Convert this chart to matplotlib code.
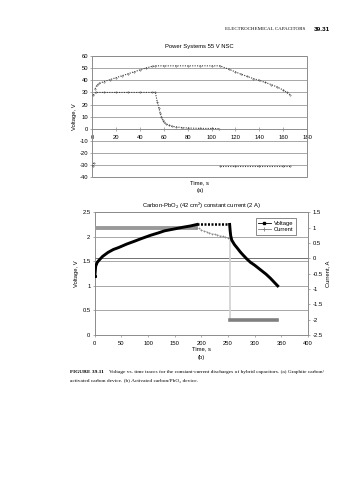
import matplotlib
matplotlib.use("Agg")
import matplotlib.pyplot as plt
from matplotlib.patches import Rectangle
from matplotlib.lines import Line2D

plt.rcParams['font.family'] = ['Liberation Sans', 'DejaVu Sans']
plt.rcParams['mathtext.fontset'] = 'custom'
plt.rcParams['mathtext.rm'] = 'Liberation Sans'
plt.rcParams['mathtext.it'] = 'Liberation Sans:italic'
plt.rcParams['axes.unicode_minus'] = False

# ------------------------------------------------------
# (a) Power Systems 55 V NSC
a_upper_t = [2.5, 4, 6, 10, 15, 20, 25, 30, 35, 40, 45, 50, 53, 60, 70, 80, 90, 100,
             107, 115, 120, 125, 130, 135, 140, 145, 150, 155, 160, 163, 166]
a_upper_v = [33, 36, 37.5, 39, 40.6, 42.2, 43.8, 45.4, 47, 48.6, 50.2, 51.5, 52, 52, 52, 52,
             52, 52, 52, 49, 47, 45, 43.2, 41.5, 40, 38.3, 36.5, 34.5, 32, 30, 28]
a_mid_t = [1, 3, 10, 20, 30, 40, 50, 53, 54.5, 56, 57, 58, 59, 60, 62, 64, 67, 70, 75,
           80, 90, 100, 106]
a_mid_v = [27.8, 30, 30, 30, 30, 30, 30, 30, 22.5, 17, 13, 10, 7.5, 5.5, 4, 3, 2, 1.5,
           1, 0.6, 0.3, 0.2, 0.1]
a_low1_t = [0.5, 1.5]
a_low1_v = [-31, -28]
a_low2_t = [107, 120, 140, 160, 166]
a_low2_v = [-31, -31, -31, -31, -31]
a_xticks = [0, 20, 40, 60, 80, 100, 120, 140, 160, 180]
a_yticks = [-40, -30, -20, -10, 0, 10, 20, 30, 40, 50, 60]

# ------------------------------------------------------
# (b) Carbon-PbO2, voltage and current
v_charge_t = [0.5, 2, 5, 9, 15, 25, 35, 45, 60, 75, 87, 105, 120, 131, 150, 164, 180, 192]
v_charge = [1.2, 1.4, 1.48, 1.53, 1.6, 1.68, 1.74, 1.78, 1.85, 1.91, 1.96, 2.03, 2.08,
            2.12, 2.16, 2.19, 2.22, 2.25]
v_hold_t = [192, 253]
v_hold = [2.25, 2.25]
v_dis_t = [253, 254, 255, 257, 262, 268, 273, 278, 285, 292, 300, 307, 314, 321, 329, 336, 343]
v_dis = [2.25, 2.12, 2.02, 1.93, 1.84, 1.76, 1.69, 1.63, 1.55, 1.48, 1.42, 1.36, 1.30,
         1.24, 1.16, 1.08, 1.0]

i_charge_t = [0, 1, 2, 190]
i_charge = [-0.55, 0.0, 1.0, 1.0]
i_taper_t = [190, 195, 200, 205, 210, 215, 220, 225, 230, 235, 240, 245, 250, 253]
i_taper = [1.0, 0.97, 0.92, 0.89, 0.86, 0.83, 0.8, 0.78, 0.76, 0.74, 0.71, 0.69, 0.67, 0.66]
i_step_t = [253, 253]
i_step = [0.66, -2.0]
i_dis_t = [253, 342]
i_dis = [-2.0, -2.0]

b_xticks = [0, 50, 100, 150, 200, 250, 300, 350, 400]
b_yticks = [0, 0.5, 1, 1.5, 2, 2.5]
b_y2ticks = [-2.5, -2, -1.5, -1, -0.5, 0, 0.5, 1, 1.5]

fs = 4.2
grid_c = '0.6'
frame_c = '0.55'

fig = plt.figure(figsize=(3.57, 4.8), dpi=100)

# page header
fig.text(0.855, 0.939, "ELECTROCHEMICAL CAPACITORS", ha='right', va='center',
         fontsize=3.6, family=['Liberation Serif', 'DejaVu Serif'])
fig.text(0.925, 0.939, "39.31", ha='right', va='center', fontsize=4.6, weight='bold')

# ------------------------------------------------------
# chart (a)
ax = fig.add_axes([0.258, 0.631, 0.602, 0.252])
ax.set_xlim(0, 180)
ax.set_ylim(-40, 60)
ax.set_yticks(a_yticks)
ax.set_xticks(a_xticks)
ax.set_xticklabels([str(x) for x in a_xticks])
ax.yaxis.grid(True, color=grid_c, lw=0.6)
ax.set_axisbelow(True)
for s in ['top', 'right', 'left']:
    ax.spines[s].set_visible(False)
ax.spines['bottom'].set_position(('data', 0))
ax.spines['bottom'].set_color(frame_c)
ax.spines['bottom'].set_linewidth(0.6)
ax.add_patch(Rectangle((0, 0), 1, 1, transform=ax.transAxes, fill=False,
                       ec=frame_c, lw=0.7, clip_on=False))
ax.tick_params(axis='both', labelsize=fs, length=1.5, width=0.5, color=frame_c, pad=1.5)
ax.tick_params(axis='x', direction='inout', length=2.5, pad=3)
for t, v in [(a_upper_t, a_upper_v), (a_mid_t, a_mid_v), (a_low1_t, a_low1_v),
             (a_low2_t, a_low2_v)]:
    ax.plot(t, v, color='0.25', lw=0.8, ls=(0, (1, 1.2)), marker='.', ms=0.6)
ax.set_ylabel("Voltage, V", fontsize=fs, labelpad=2)
ax.set_title("Power Systems 55 V NSC", fontsize=fs, pad=6)
fig.text(0.56, 0.620, "Time, s", ha='center', va='center', fontsize=fs)
fig.text(0.56, 0.604, "(a)", ha='center', va='center', fontsize=fs)

# ------------------------------------------------------
# chart (b)
bx = fig.add_axes([0.265, 0.302, 0.598, 0.256])
bx.set_xlim(0, 400)
bx.set_ylim(0, 2.5)
bx.set_xticks(b_xticks)
bx.set_yticks(b_yticks)
bx.set_yticklabels(["0", "0.5", "1", "1.5", "2", "2.5"])
bx.yaxis.grid(True, color=grid_c, lw=0.6)
bx.set_axisbelow(True)
for s in bx.spines.values():
    s.set_color(frame_c)
    s.set_linewidth(0.7)
bx.tick_params(axis='both', labelsize=fs, length=1.5, width=0.5, color=frame_c, pad=1.5)
bx.tick_params(axis='x', pad=3)

bx2 = bx.twinx()
bx2.set_ylim(-2.5, 1.5)
bx2.set_yticks(b_y2ticks)
bx2.set_yticklabels(["-2.5", "-2", "-1.5", "-1", "-0.5", "0", "0.5", "1", "1.5"])
bx2.tick_params(axis='y', labelsize=fs, length=1.5, width=0.5, color=frame_c, pad=1.5)
for s in bx2.spines.values():
    s.set_visible(False)
bx2.axhline(0, color='0.35', lw=0.6)

bx2.plot(i_step_t, i_step, color='0.82', lw=1.2)
bx2.plot(i_charge_t, i_charge, color='0.6', lw=0.6)
bx2.plot(i_charge_t[2:], i_charge[2:], color='0.6', lw=2.8)
bx2.plot(i_charge_t[1:2], i_charge[1:2], color='0.5', marker='+', ms=2, mew=0.6, lw=0)
bx2.plot(i_taper_t, i_taper, color='0.55', lw=0.5, ls=(0, (1, 1)), marker='+', ms=1.6, mew=0.5)
bx2.plot(i_dis_t, i_dis, color='0.5', lw=2.6)

bx2.plot(v_charge_t, v_charge, color='black', lw=2.1, transform=bx.transData)
bx2.plot(v_charge_t[:1], v_charge[:1], color='black', marker='s', ms=1.2, lw=0,
         transform=bx.transData)
bx2.plot(v_hold_t, v_hold, color='black', lw=1.8, ls=(0, (0.8, 0.6)), transform=bx.transData)
bx2.plot(v_dis_t, v_dis, color='black', lw=2.1, transform=bx.transData)

handles = [Line2D([], [], color='black', lw=0.6, marker='s', ms=1.6),
           Line2D([], [], color='0.5', lw=0.6, marker='+', ms=2.2, mew=0.6)]
leg = bx2.legend(handles, ["Voltage", "Current"], loc='upper right', fontsize=fs,
                 frameon=True, fancybox=False, edgecolor='0.2', handlelength=2.2,
                 borderpad=0.4, labelspacing=0.3, handletextpad=0.5,
                 bbox_to_anchor=(0.955, 0.975))
leg.get_frame().set_linewidth(0.5)

bx.set_ylabel("Voltage, V", fontsize=fs, labelpad=2)
bx2.set_ylabel("Current, A", fontsize=fs, labelpad=2)
bx.set_title("Carbon-PbO$_2$ (42 cm$^2$) constant current (2 A)", fontsize=fs, pad=3)
fig.text(0.565, 0.273, "Time, s", ha='center', va='center', fontsize=fs)
fig.text(0.565, 0.256, "(b)", ha='center', va='center', fontsize=fs)

# caption
serif = ['Liberation Serif', 'DejaVu Serif']
fig.text(0.196, 0.225, "FIGURE 39.11", ha='left', va='center', fontsize=3.9,
         weight='bold', family=serif)
fig.text(0.305, 0.225, "Voltage vs. time traces for the constant-current discharges of "
         "hybrid capacitors. (a) Graphite carbon/", ha='left', va='center',
         fontsize=3.9, family=serif)
fig.text(0.196, 0.207, "activated carbon device. (b) Activated carbon/PbO\u2082 device.",
         ha='left', va='center', fontsize=3.9, family=serif)

fig.savefig("out.png", dpi=100)
